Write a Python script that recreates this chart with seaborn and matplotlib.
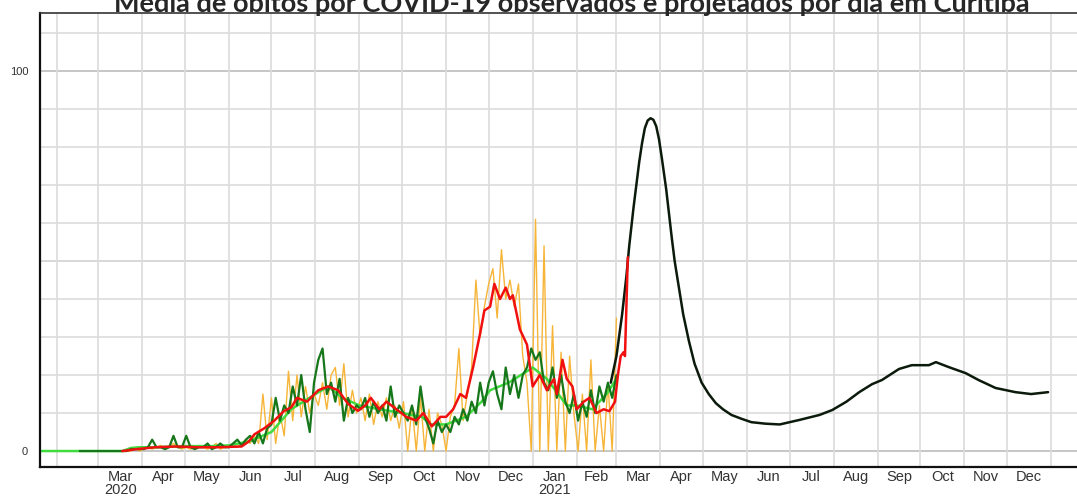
import matplotlib
matplotlib.use("Agg")
import pandas as pd
import matplotlib.pyplot as plt
import matplotlib.dates as mdates
import matplotlib.ticker as mticker
import seaborn as sns

# --- Data ---
TITLE = "Média de óbitos por COVID-19 observados e projetados por dia em Curitiba"

# dark green: daily deaths, every 3 days from 2020-02-17
DG_START = "2020-02-17"
DG_VALUES = [
    0, 0, 0, 0, 0, 0, 0, 0, 0, 0,
    0, 0, 0.5, 0.5, 0.5,
    0.5, 1, 3, 1, 1, 0.5, 1, 4, 1, 1,
    4, 1, 0.5, 1, 1, 2, 0.5, 1, 2, 1,
    1, 2, 3, 1.5, 3, 4, 2, 5, 2, 6,
    7, 14, 8, 12, 10, 17, 12, 20, 11, 5, 18,
    24, 27, 15, 18, 13, 19, 8, 14, 10, 12,
    11, 14, 9, 13, 10, 12, 8, 17, 9, 12,
    10, 8, 12, 7, 17, 9, 6, 2, 8, 5,
    7, 5, 9, 7, 11, 8, 13, 10, 18, 12,
    18, 21, 15, 11, 22, 15, 20, 14, 20, 22, 27,
    24, 26, 18, 16, 22, 14, 20, 13, 10, 15,
    8, 13, 9, 16, 10, 17, 13, 18, 14, 20,
]

# orange: reported deaths, every 3 days from 2020-03-18
OR_START = "2020-03-18"
OR_VALUES = [
    0, 0, 0, 1, 0,
    0.5, 1, 0.5, 1, 1.5, 0.5, 1, 2, 1, 0.5,
    1, 0.5, 1, 1.5, 1, 0.5, 1, 2, 0.5, 1,
    1, 2, 1, 2, 3, 2, 4, 2, 15, 3,
    14, 2, 10, 4, 21, 8, 20, 9, 17, 10, 15,
    12, 18, 11, 20, 22, 12, 23, 9, 16, 10,
    14, 8, 15, 7, 13, 9, 14, 8, 12, 6,
    13, 0, 12, 0, 14, 0, 11, 0, 10, 7,
    0, 9, 12, 27, 8, 15, 22, 45, 30, 38,
    44, 48, 35, 53, 40, 45, 38, 44, 25, 18, 0,
    61, 0, 54, 0, 33, 0, 26, 0, 25, 10,
    0, 15, 0, 24, 0, 12, 0, 18, 0, 35,
]

# light green: moving average of the dark green series
LG_DATES = [
    "2020-01-20", "2020-02-17", "2020-03-18", "2020-03-24", "2020-03-30",
    "2020-04-10", "2020-05-01", "2020-05-20", "2020-06-01", "2020-06-15",
    "2020-07-01", "2020-07-15", "2020-08-01", "2020-08-10", "2020-08-20",
    "2020-09-01", "2020-09-15", "2020-10-01", "2020-10-15", "2020-10-21",
    "2020-11-01", "2020-11-15", "2020-11-26", "2020-12-02", "2020-12-15",
    "2020-12-28", "2021-01-01", "2021-01-11", "2021-01-21", "2021-01-25",
    "2021-02-01", "2021-02-12", "2021-02-22", "2021-03-01",
]
LG_VALUES = [
    0, 0, 0, 0.8, 1,
    1, 1.3, 1.3, 1.5, 2.5,
    5, 11, 15, 17, 14,
    12, 11, 10, 9, 7,
    7, 9, 13, 16, 18,
    21, 22, 19, 14, 12,
    12, 11, 15, 19,
]

# red: moving average of reported deaths
RED_DATES = [
    "2020-03-18", "2020-03-28", "2020-04-10", "2020-04-25", "2020-05-10",
    "2020-05-25", "2020-06-10", "2020-06-15", "2020-06-19", "2020-06-26",
    "2020-07-03", "2020-07-10", "2020-07-15", "2020-07-19", "2020-07-26",
    "2020-08-03", "2020-08-10", "2020-08-17", "2020-08-24", "2020-08-31",
    "2020-09-05", "2020-09-09", "2020-09-15", "2020-09-20", "2020-09-27",
    "2020-10-04", "2020-10-11", "2020-10-16", "2020-10-22", "2020-10-28",
    "2020-11-01", "2020-11-06", "2020-11-11", "2020-11-15", "2020-11-20",
    "2020-11-25", "2020-11-28", "2020-12-02", "2020-12-05", "2020-12-09",
    "2020-12-13", "2020-12-16", "2020-12-18", "2020-12-23", "2020-12-28",
    "2021-01-01", "2021-01-06", "2021-01-11", "2021-01-16", "2021-01-18",
    "2021-01-22", "2021-01-25", "2021-01-29", "2021-02-01", "2021-02-06",
    "2021-02-10", "2021-02-15", "2021-02-20", "2021-02-24", "2021-02-28",
    "2021-03-02", "2021-03-04", "2021-03-06", "2021-03-07", "2021-03-08",
    "2021-03-09",
]
RED_VALUES = [
    0, 0.5, 1, 1.2, 1,
    1, 1.2, 2.5, 4.4, 6,
    8, 10.6, 11.5, 14, 13,
    16, 17, 16, 12.4, 10.6,
    12, 14, 11, 13, 11,
    9, 8, 10, 6.5, 9,
    9, 11, 15, 14, 22,
    31, 37, 38, 44, 40,
    43, 40, 41, 32, 28,
    17, 20, 16, 19, 15,
    24, 19, 17, 11, 13,
    14, 10, 11, 10.5, 13,
    20, 25, 26, 25, 38,
    51,
]

# black: projection
BK_DATES = [
    "2021-02-25", "2021-03-01", "2021-03-05", "2021-03-08", "2021-03-10",
    "2021-03-13", "2021-03-15", "2021-03-17", "2021-03-19", "2021-03-21",
    "2021-03-23", "2021-03-25", "2021-03-27", "2021-03-29", "2021-03-31",
    "2021-04-02", "2021-04-05", "2021-04-07", "2021-04-09", "2021-04-11",
    "2021-04-14", "2021-04-17", "2021-04-21", "2021-04-25", "2021-04-30",
    "2021-05-05", "2021-05-10", "2021-05-15", "2021-05-21", "2021-05-28",
    "2021-06-04", "2021-06-14", "2021-06-24", "2021-07-08", "2021-07-22",
    "2021-07-31", "2021-08-10", "2021-08-19", "2021-08-28", "2021-09-04",
    "2021-09-16", "2021-09-25", "2021-10-07", "2021-10-12", "2021-10-21",
    "2021-11-02", "2021-11-11", "2021-11-23", "2021-12-07", "2021-12-18",
    "2021-12-30",
]
BK_VALUES = [
    18, 25, 36, 46, 54,
    64, 70, 76, 81, 85,
    87, 87.6, 87.2, 85.5, 82,
    77, 69, 62.5, 56, 50,
    43, 36, 29, 23, 18,
    15, 12.6, 11, 9.5, 8.5,
    7.6, 7.2, 7, 8.2, 9.5,
    10.8, 13, 15.5, 17.6, 18.7,
    21.6, 22.6, 22.6, 23.4, 22.1,
    20.5, 18.7, 16.6, 15.5, 15,
    15.5,
]

MONTH_LABELS = ["Mar\n2020", "Apr", "May", "Jun", "Jul", "Aug", "Sep", "Oct", "Nov", "Dec",
                "Jan\n2021", "Feb", "Mar", "Apr", "May", "Jun", "Jul", "Aug", "Sep", "Oct", "Nov", "Dec"]

# --- Frames ---
dg = pd.DataFrame({"data": pd.date_range(DG_START, periods=len(DG_VALUES), freq="3D"), "obitos": DG_VALUES})
orng = pd.DataFrame({"data": pd.date_range(OR_START, periods=len(OR_VALUES), freq="3D"), "obitos": OR_VALUES})
lg = pd.DataFrame({"data": pd.to_datetime(LG_DATES), "obitos": LG_VALUES})
red = pd.DataFrame({"data": pd.to_datetime(RED_DATES), "obitos": RED_VALUES})
proj = pd.DataFrame({"data": pd.to_datetime(BK_DATES), "obitos": BK_VALUES})

# --- Plot ---
sns.set_style("white")
plt.rcParams["font.family"] = ["Liberation Sans", "DejaVu Sans"]

fig = plt.figure(figsize=(10.77, 4.96), dpi=100)
ax = fig.add_axes([40 / 1077, 29 / 496, 1045 / 1077, 454 / 496])

sns.lineplot(data=orng, x="data", y="obitos", color="#f7b538", linewidth=1.0, ax=ax)
sns.lineplot(data=lg, x="data", y="obitos", color="#3fdc3f", linewidth=1.8, ax=ax)
sns.lineplot(data=dg, x="data", y="obitos", color="#16761a", linewidth=1.6, ax=ax)
sns.lineplot(data=proj, x="data", y="obitos", color="#0b1a0b", linewidth=1.8, ax=ax)
sns.lineplot(data=red, x="data", y="obitos", color="#f01010", linewidth=1.8, ax=ax)

ax.set_xlim(pd.Timestamp("2020-01-20"), pd.Timestamp("2022-01-25"))
ax.set_ylim(-4.2, 115.3)
ax.set_xlabel("")
ax.set_ylabel("")

# month labels centred on each month, grid on month starts
month_starts = pd.date_range("2020-03-01", periods=len(MONTH_LABELS) + 1, freq="MS")
centers = month_starts[:-1] + (month_starts[1:] - month_starts[:-1]) / 2
ax.set_xticks(centers)
ax.set_xticklabels(MONTH_LABELS, fontsize=10.5, color="#333333", linespacing=0.95, va="top")
ax.xaxis.set_minor_locator(mdates.MonthLocator())
ax.tick_params(axis="x", which="both", length=0, pad=2)

ax.set_yticks([0, 100])
ax.set_yticklabels(["0", "100"], fontsize=8, color="#333333")
ax.yaxis.set_minor_locator(mticker.MultipleLocator(10))
ax.tick_params(axis="y", which="major", length=4.5, width=1, pad=4, color="#222222")
ax.tick_params(axis="y", which="minor", length=0)

ax.set_axisbelow(True)
ax.grid(False)
ax.grid(which="minor", axis="both", color="#dcdcdc", linewidth=1.2)
for v in [0, 50, 100]:
    ax.axhline(v, color="#c6c6c6", linewidth=1.4, zorder=0)

for side in ["left", "bottom"]:
    ax.spines[side].set_color("#111111")
    ax.spines[side].set_linewidth(1.6)
ax.spines["top"].set_color("#333333")
ax.spines["top"].set_linewidth(1.2)
ax.spines["right"].set_visible(False)

fig.text(0.531, 1 - 12 / 496, TITLE, ha="center", va="baseline",
         fontsize=19.5, fontweight="bold", family=["Lato", "DejaVu Sans"])

fig.savefig("out.png", dpi=100)
